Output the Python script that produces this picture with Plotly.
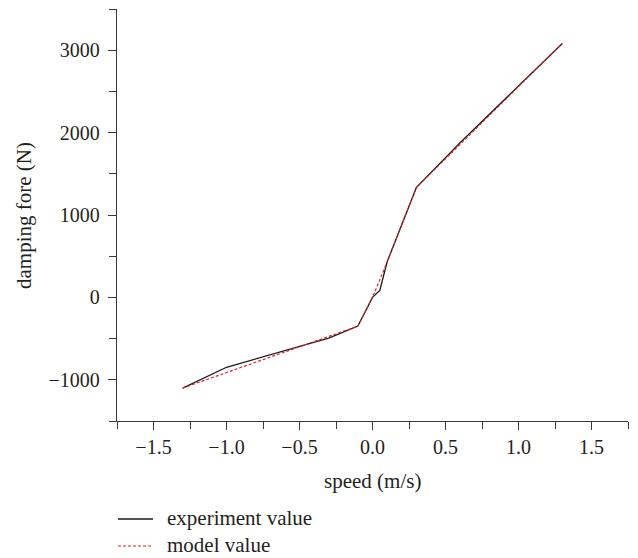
import plotly.graph_objects as go

# Damper force–velocity characteristic: measured vs. model
exp_speed = [-1.3, -1.0, -0.3, -0.1, 0.0, 0.05, 0.1, 0.3, 0.6, 1.0, 1.3]
exp_force = [-1100, -848, -494, -348, 0, 85, 430, 1332, 1877, 2572, 3082]

model_speed = [-1.3, -0.1, 0.0, 0.1, 0.3, 1.3]
model_force = [-1100, -348, 0, 430, 1332, 3082]

series_names = ["experiment value", "model value"]
series_colors = ["#1a1a1a", "#e0201e"]
series_dash = ["solid", "3px,2px"]
series_width = [1.3, 1.1]

FONT = "Liberation Serif"
TEXT_COLOR = "#231f20"
AXIS_COLOR = "#3a3a3a"
TICK_FS = 20
TITLE_FS = 21

W, H = 638, 558
L, R, T, B = 117, 10, 9, 137
PW, PH = W - L - R, H - T - B


def px_x(px):
    return (px - L) / PW


def px_y(py):
    return (T + PH - py) / PH


fig = go.Figure()
for xs, ys, i in [(exp_speed, exp_force, 0), (model_speed, model_force, 1)]:
    fig.add_trace(go.Scatter(
        x=xs, y=ys, mode="lines", name=series_names[i], showlegend=False,
        line=dict(color=series_colors[i], width=series_width[i], dash=series_dash[i]),
    ))

axis_common = dict(
    showline=True, linecolor=AXIS_COLOR, linewidth=1.3, mirror=False,
    showgrid=False, zeroline=False,
    ticks="outside", ticklen=8, tickwidth=1.3, tickcolor=AXIS_COLOR,
    tickfont=dict(family=FONT, size=TICK_FS, color=TEXT_COLOR),
    automargin=False,
)

fig.update_xaxes(
    **axis_common,
    range=[-1.75, 1.75], tick0=-1.5, dtick=0.5, tickformat=".1f",
    minor=dict(ticks="outside", ticklen=7, tickwidth=1.3, tickcolor=AXIS_COLOR, dtick=0.25, tick0=-1.75),
)
fig.update_yaxes(
    **axis_common,
    range=[-1500, 3500], tick0=-1000, dtick=1000,
    ticklabelstandoff=4,
    minor=dict(ticks="outside", ticklen=7, tickwidth=1.3, tickcolor=AXIS_COLOR, dtick=500, tick0=-1500),
)

# axis titles
fig.add_annotation(
    text="speed (m/s)", xref="paper", yref="paper",
    x=0.5, y=px_y(481), xanchor="center", yanchor="middle",
    showarrow=False, font=dict(family=FONT, size=TITLE_FS, color=TEXT_COLOR),
)
fig.add_annotation(
    text="damping fore (N)", xref="paper", yref="paper",
    x=px_x(24), y=px_y(216), xanchor="center", yanchor="middle",
    textangle=-90, showarrow=False, font=dict(family=FONT, size=TITLE_FS, color=TEXT_COLOR),
)

# legend below the plot: sample line + label per series
legend_rows = [519, 546]
for i, row in enumerate(legend_rows):
    fig.add_shape(
        type="line", xref="paper", yref="paper",
        x0=px_x(118), x1=px_x(153), y0=px_y(row), y1=px_y(row),
        line=dict(color=series_colors[i], width=series_width[i], dash=series_dash[i]),
    )
    fig.add_annotation(
        text=series_names[i], xref="paper", yref="paper",
        x=px_x(165), y=px_y(row - 1), xanchor="left", yanchor="middle",
        showarrow=False, font=dict(family=FONT, size=TITLE_FS, color=TEXT_COLOR),
    )

fig.update_layout(
    width=W, height=H,
    margin=dict(l=L, r=R, t=T, b=B, autoexpand=False),
    plot_bgcolor="white", paper_bgcolor="white",
    font=dict(family=FONT, size=TITLE_FS, color=TEXT_COLOR),
    showlegend=False,
)

fig.write_html("out.html")
